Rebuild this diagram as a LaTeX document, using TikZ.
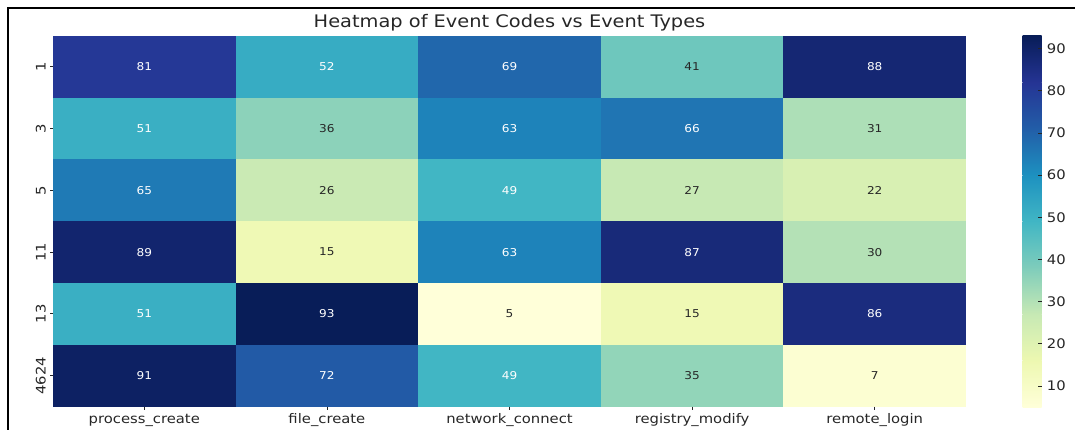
\documentclass[tikz,border=0pt]{standalone}
\usepackage{fontspec}
\setmainfont{DejaVu Sans}[FakeStretch=1.12]
\usepackage{tikz}
\usetikzlibrary{calc}

% YlGnBu colour steps
\definecolor{ylgnbu0}{RGB}{255,255,217}
\definecolor{ylgnbu1}{RGB}{237,248,177}
\definecolor{ylgnbu2}{RGB}{199,233,180}
\definecolor{ylgnbu3}{RGB}{127,205,187}
\definecolor{ylgnbu4}{RGB}{65,182,196}
\definecolor{ylgnbu5}{RGB}{29,145,192}
\definecolor{ylgnbu6}{RGB}{34,94,168}
\definecolor{ylgnbu7}{RGB}{37,52,148}
\definecolor{ylgnbu8}{RGB}{8,29,88}
\definecolor{textgray}{RGB}{38,38,38}

\begin{document}
\begin{tikzpicture}[x=1pt, y=-1pt]
                % Define the styles for texts and ticks
                \tikzstyle{annot}=[font=\fontsize{10.8}{10.8}\selectfont, inner sep=0pt];
                \tikzstyle{ticklabel}=[font=\fontsize{13.2}{13.2}\selectfont, text=textgray, inner sep=0pt];
                \tikzstyle{tickmark}=[draw=textgray, line width=0.8pt];
                
                \useasboundingbox (0,0) rectangle (1075,430);
                
                % Size of one cell
                \def\cw{182.6}
                \def\rh{61.75}
                
                % Draw the cells, row by row
                \foreach \code/\vals [count=\r] in {1/{81,52,69,41,88}, 3/{51,36,63,66,31}, 5/{65,26,49,27,22}, 11/{89,15,63,87,30}, 13/{51,93,5,15,86}, 4624/{91,72,49,35,7}} {
                    \pgfmathsetmacro{\yt}{36+(\r-1)*\rh}
                    \pgfmathsetmacro{\yc}{\yt+\rh/2}
                    \foreach \v [count=\c] in \vals {
                        \pgfmathsetmacro{\xl}{53+(\c-1)*\cw}
                        \pgfmathsetmacro{\t}{(\v-5)/88*8}
                        \pgfmathtruncatemacro{\i}{min(floor(\t),7)}
                        \pgfmathtruncatemacro{\j}{\i+1}
                        \pgfmathtruncatemacro{\p}{round(100*(1-(\t-\i)))}
                        \colorlet{cellfill}{ylgnbu\i!\p!ylgnbu\j}
                        \ifnum\v>45 \def\tc{white}\else\def\tc{textgray}\fi
                        \fill[cellfill] (\xl,\yt) rectangle ++(\cw+0.4,\rh+0.4);
                        \node[annot, text=\tc] (val-\r-\c) at ({\xl+\cw/2},\yc) {\v};
                    }
                    % Row label and its tick
                    \coordinate (rt-\r) at (53,\yc);
                    \draw[tickmark] (rt-\r) -- ++(-3.5,0);
                    \node[ticklabel, rotate=90, anchor=base] (row-\r) at (45.5,\yc) {\code};
                }
                
                % Column labels and their ticks
                \foreach \name [count=\c] in {process\_create, file\_create, network\_connect, registry\_modify, remote\_login} {
                    \coordinate (ct-\c) at ({53+(\c-0.5)*\cw},406.5);
                    \draw[tickmark] (ct-\c) -- ++(0,3.5);
                    \node[ticklabel, anchor=base] (col-\c) at ($(ct-\c)+(0,16.5)$) {\name};
                }
                
                % Colour bar
                \foreach \i [evaluate=\i as \j using int(\i+1)] in {0,...,7} {
                    \shade[bottom color=ylgnbu\i, top color=ylgnbu\j] (1022.7,{407-\i*46.375+0.3}) rectangle (1041.7,{407-(\i+1)*46.375});
                }
                \foreach \t in {10,20,...,90} {
                    \coordinate (cb-\t) at (1041.7,{407-(\t-5)/88*371});
                    \draw[tickmark] (cb-\t) -- ++(-4,0);
                    \node[ticklabel, anchor=west] (cbl-\t) at ($(cb-\t)+(5,0)$) {\t};
                }
                
                % Title
                \node[font=\fontsize{17.3}{17.3}\selectfont, text=textgray, anchor=base] (title) at (509.5,27.3) {Heatmap of Event Codes vs Event Types};
                
                % Frame round the screenshot
                \draw[line width=1.3pt] (8,430) -- (8,8) -- (1075,8);
                \draw[line width=2pt] (8,8) -- (22.5,8);
                \draw[line width=2pt] (1067,8) -- (1075,8);
                
            \end{tikzpicture}
\end{document}
